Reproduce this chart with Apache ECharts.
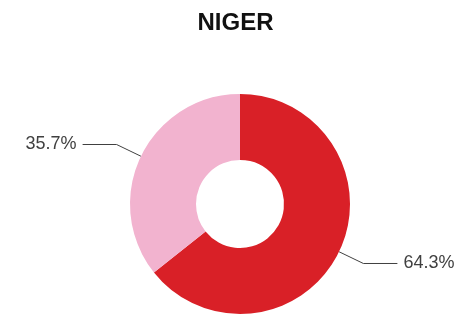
<!DOCTYPE html>
<html>
<head>
<meta charset="utf-8">
<script src="https://cdn.jsdelivr.net/npm/echarts@6/dist/echarts.min.js"></script>
<style>html,body{margin:0;padding:0;background:#fff;}#c{width:471px;height:317px;}</style>
</head>
<body>
<div id="c"></div>
<script>
const title = 'NIGER';
const categories = ['A', 'B'];
const values = [64.3, 35.7];
const colors = ['#d92027', '#f2b3cf'];

const chart = echarts.init(document.getElementById('c'), null, {renderer: 'canvas'});
chart.setOption({
  animation: false,
  title: {
    text: title,
    left: 'center',
    top: 6,
    textStyle: {fontFamily: 'Liberation Sans', fontWeight: 'bold', fontSize: 24, color: '#111'}
  },
  series: [{
    type: 'pie',
    center: [240, 204],
    radius: [44, 110],
    startAngle: 90,
    clockwise: true,
    avoidLabelOverlap: false,
    data: categories.map((c, i) => ({name: c, value: values[i], itemStyle: {color: colors[i]}})),
    label: {
      show: true,
      formatter: p => p.value.toFixed(1) + '%',
      fontFamily: 'Liberation Sans',
      fontSize: 18,
      color: '#404040',
      distanceToLabelLine: 6
    },
    labelLine: {
      show: true,
      length: 27,
      length2: 34,
      smooth: false,
      lineStyle: {color: '#404040', width: 1}
    },
    emphasis: {disabled: true}
  }]
});
</script>
</body>
</html>
